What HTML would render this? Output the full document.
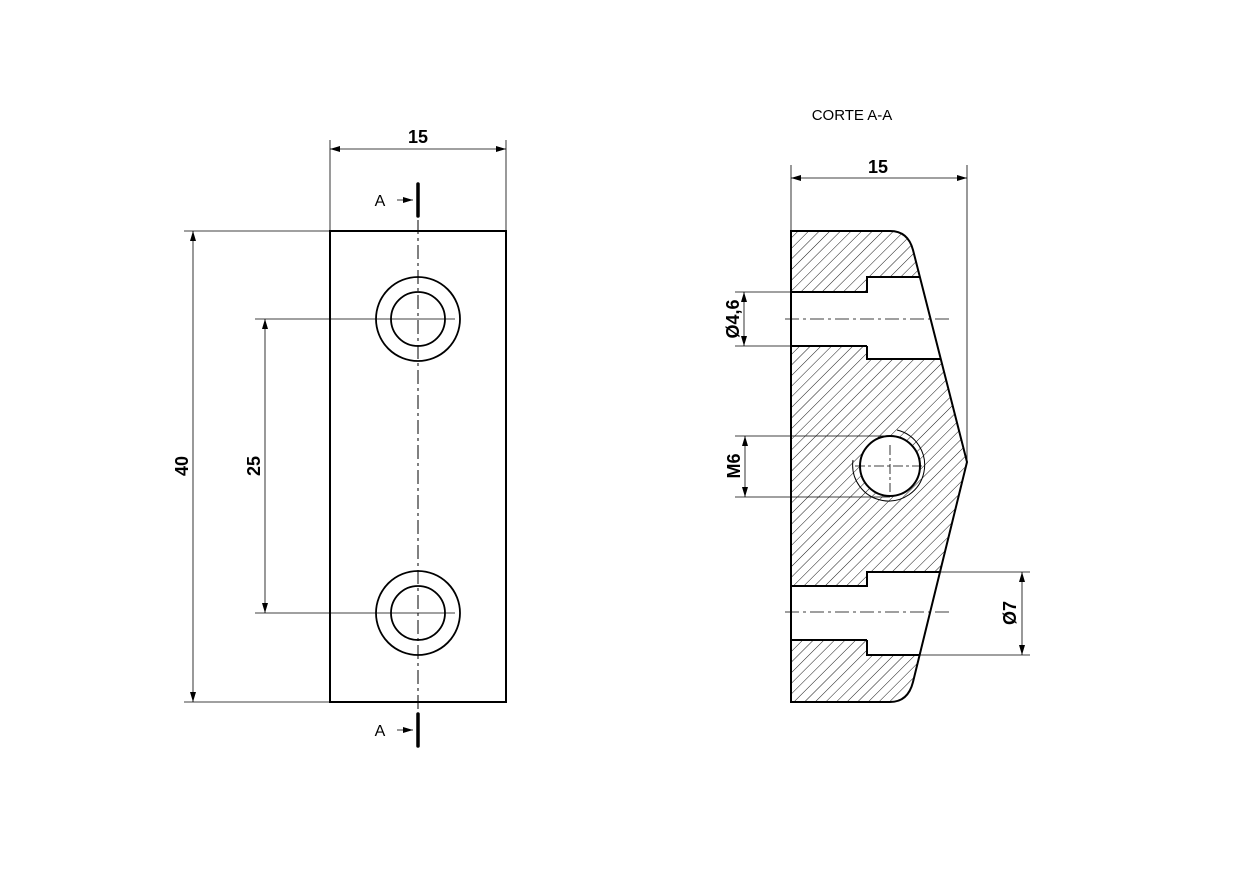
<!DOCTYPE html>
<html><head><style>
html,body{margin:0;padding:0;background:#fff;}
svg{display:block;}
text{font-family:"Liberation Sans","DejaVu Sans",sans-serif;fill:#000;}
.b{font-weight:bold;font-size:18px;}
</style></head><body>
<svg width="1239" height="875" viewBox="0 0 1239 875" xmlns="http://www.w3.org/2000/svg">
<defs>
<marker id="ar" viewBox="0 0 10 6" refX="10" refY="3" markerWidth="10" markerHeight="6" markerUnits="userSpaceOnUse" orient="auto-start-reverse"><path d="M0,0 L10,3 L0,6z" fill="#000"/></marker>
<pattern id="h" patternUnits="userSpaceOnUse" width="7.5" height="10" patternTransform="rotate(45)">
<line x1="0" y1="0" x2="0" y2="10" stroke="#000" stroke-width="0.9"/>
</pattern>
<clipPath id="body">
<path d="M791,231 H890 Q908,231 913,250 L920,277 H867 V292 H791 V346 H867 V359 H941 L967,462 L940,572 H867 V586 H791 V640 H867 V655 H920 L913,682 Q908,702 890,702 H791 Z"/>
</clipPath>
</defs>

<!-- LEFT VIEW -->
<g fill="none" stroke="#000">
<rect x="330" y="231" width="176" height="471" stroke-width="2"/>
<circle cx="418" cy="319" r="42" stroke-width="1.8"/>
<circle cx="418" cy="319" r="27" stroke-width="1.8"/>
<circle cx="418" cy="613" r="42" stroke-width="1.8"/>
<circle cx="418" cy="613" r="27" stroke-width="1.8"/>
<line x1="418" y1="220" x2="418" y2="712" stroke-width="1" stroke-dasharray="14,4,3,4"/>
<line x1="390" y1="319" x2="455" y2="319" stroke-width="0.8"/>
<line x1="390" y1="613" x2="455" y2="613" stroke-width="0.8"/>
<g stroke-width="0.8">
<line x1="330" y1="140" x2="330" y2="231"/>
<line x1="506" y1="140" x2="506" y2="231"/>
<line x1="330" y1="149" x2="506" y2="149" marker-start="url(#ar)" marker-end="url(#ar)"/>
<line x1="184" y1="231" x2="330" y2="231"/>
<line x1="184" y1="702" x2="330" y2="702"/>
<line x1="193" y1="231" x2="193" y2="702" marker-start="url(#ar)" marker-end="url(#ar)"/>
<line x1="255" y1="319" x2="390" y2="319"/>
<line x1="255" y1="613" x2="390" y2="613"/>
<line x1="265" y1="319" x2="265" y2="613" marker-start="url(#ar)" marker-end="url(#ar)"/>
<line x1="397" y1="200" x2="413" y2="200" marker-end="url(#ar)"/>
<line x1="397" y1="730" x2="413" y2="730" marker-end="url(#ar)"/>
</g>
<line x1="418" y1="184" x2="418" y2="216" stroke-width="3.5" stroke-linecap="round"/>
<line x1="418" y1="714" x2="418" y2="746" stroke-width="3.5" stroke-linecap="round"/>
</g>
<text class="b" x="418" y="143" text-anchor="middle">15</text>
<text class="b" transform="translate(188,466) rotate(-90)" text-anchor="middle">40</text>
<text class="b" transform="translate(260,466) rotate(-90)" text-anchor="middle">25</text>
<text x="380" y="206" font-size="16" text-anchor="middle">A</text>
<text x="380" y="736" font-size="16" text-anchor="middle">A</text>

<!-- RIGHT VIEW -->
<text x="852" y="120" font-size="15" text-anchor="middle">CORTE A-A</text>
<g clip-path="url(#body)">
<rect x="780" y="220" width="200" height="500" fill="url(#h)"/>
<circle cx="890" cy="466" r="30" fill="#fff"/>
</g>
<g fill="none" stroke="#000">
<path d="M791,231 H890 Q908,231 913,250 L967,462 L913,682 Q908,702 890,702 H791 Z" stroke-width="2"/>
<path d="M791,292 H867 V277 H920 M867,346 V359 H941 M791,346 H867" stroke-width="2"/>
<path d="M791,586 H867 V572 H940 M867,640 V655 H920 M791,640 H867" stroke-width="2"/>
<circle cx="890" cy="466" r="30" stroke-width="2"/>
<path d="M897,430 A36,36 0 1 1 853,460" stroke-width="1"/>
<g stroke-width="0.8">
<line x1="785" y1="319" x2="950" y2="319" stroke-dasharray="14,4,3,4"/>
<line x1="785" y1="612" x2="950" y2="612" stroke-dasharray="14,4,3,4"/>
<line x1="855" y1="466" x2="925" y2="466" stroke-dasharray="10,3,3,3"/>
<line x1="890" y1="445" x2="890" y2="492" stroke-dasharray="10,3,3,3"/>
<line x1="791" y1="165" x2="791" y2="231"/>
<line x1="967" y1="165" x2="967" y2="462"/>
<line x1="791" y1="178" x2="967" y2="178" marker-start="url(#ar)" marker-end="url(#ar)"/>
<line x1="735" y1="292" x2="791" y2="292"/>
<line x1="735" y1="346" x2="791" y2="346"/>
<line x1="744" y1="292" x2="744" y2="346" marker-start="url(#ar)" marker-end="url(#ar)"/>
<line x1="735" y1="436" x2="890" y2="436"/>
<line x1="735" y1="497" x2="890" y2="497"/>
<line x1="745" y1="436" x2="745" y2="497" marker-start="url(#ar)" marker-end="url(#ar)"/>
<line x1="940" y1="572" x2="1030" y2="572"/>
<line x1="920" y1="655" x2="1030" y2="655"/>
<line x1="1022" y1="572" x2="1022" y2="655" marker-start="url(#ar)" marker-end="url(#ar)"/>
</g>
</g>
<text class="b" x="878" y="173" text-anchor="middle">15</text>
<text class="b" transform="translate(739,319) rotate(-90)" text-anchor="middle">Ø4,6</text>
<text class="b" transform="translate(740,466) rotate(-90)" text-anchor="middle">M6</text>
<text class="b" transform="translate(1016,613) rotate(-90)" text-anchor="middle">Ø7</text>
</svg>
</body></html>
